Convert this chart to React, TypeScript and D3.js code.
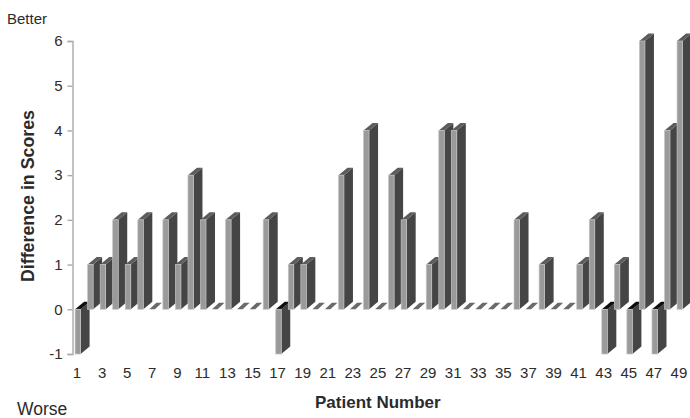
import React, { useEffect, useRef } from "react";
import * as d3 from "d3";

const patients = d3.range(1, 50);
const scores = [
  -1, 1, 1, 2, 1, 2, 0, 2, 1, 3, 2, 0, 2, 0, 0, 2, -1, 1, 1, 0, 0, 3, 0, 4, 0,
  3, 2, 0, 1, 4, 4, 0, 0, 0, 0, 2, 0, 1, 0, 0, 1, 2, -1, 1, -1, 6, -1, 4, 6,
];
const xLabels = patients.filter((p) => p % 2 === 1);
const yTicks = [-1, 0, 1, 2, 3, 4, 5, 6];

const FONT = "'Liberation Sans', Arial, sans-serif";
const TEXT = "#2b2b2b";

function App() {
  const svgRef = useRef<SVGSVGElement | null>(null);

  useEffect(() => {
    const svg = d3.select(svgRef.current);
    svg.selectAll("*").remove();

    const xScale = d3
      .scaleBand<number>()
      .domain(patients)
      .range([70.7, 685.2]);
    const yScale = d3.scaleLinear().domain([-1, 6]).range([354, 41]);

    const frontWidth = 5.5;
    const depthX = 9;
    const depthY = 7.5;
    const left = (p: number) => (xScale(p) as number) + 4.4;

    const defs = svg.append("defs");
    defs
      .append("filter")
      .attr("id", "soft")
      .append("feGaussianBlur")
      .attr("stdDeviation", 0.35);

    const bars = svg.append("g").attr("filter", "url(#soft)");
    const zero = yScale(0);

    patients.forEach((p, i) => {
      const v = scores[i];
      const x0 = left(p);
      const x1 = x0 + frontWidth;
      const y = yScale(v);
      const g = bars.append("g");

      // flat sliver for the patients with no change
      if (v === 0) {
        g.append("polygon")
          .attr(
            "points",
            [
              [x0 - 1, zero],
              [x1 - 1, zero],
              [x1 + depthX - 3, zero - depthY + 1],
              [x0 + depthX - 3, zero - depthY + 1],
            ].join(" ")
          )
          .attr("fill", "#6a6a6a");
        return;
      }

      const top = Math.min(y, zero);
      const bottom = Math.max(y, zero);
      g.append("polygon")
        .attr(
          "points",
          [
            [x1, top],
            [x1 + depthX, top - depthY],
            [x1 + depthX, bottom - depthY],
            [x1, bottom],
          ].join(" ")
        )
        .attr("fill", "#444");
      g.append("polygon")
        .attr(
          "points",
          [
            [x0, top],
            [x0 + depthX, top - depthY],
            [x1 + depthX, top - depthY],
            [x1, top],
          ].join(" ")
        )
        .attr("fill", v < 0 ? "#111" : "#5c5c5c");
      g.append("rect")
        .attr("x", x0)
        .attr("y", top)
        .attr("width", frontWidth)
        .attr("height", bottom - top)
        .attr("fill", "#9a9a9a")
        .attr("stroke", "#c4c4c4")
        .attr("stroke-width", 0.7);
    });

    const yAxis = d3
      .axisLeft(yScale)
      .tickValues(yTicks)
      .tickFormat((d) => String(d))
      .tickSize(5)
      .tickPadding(5);
    const yG = svg.append("g").attr("transform", "translate(72.5,0)").call(yAxis);
    yG.selectAll("path,line").attr("stroke", "#aaa").attr("stroke-width", 1.4);
    yG.selectAll("text")
      .attr("font-family", FONT)
      .attr("font-size", 15)
      .attr("fill", TEXT);

    const xAxis = d3
      .axisBottom(xScale)
      .tickValues(xLabels)
      .tickSize(0)
      .tickPadding(0);
    const xG = svg.append("g").attr("transform", "translate(0,367)").call(xAxis);
    xG.select(".domain").remove();
    xG.selectAll("text")
      .attr("font-family", FONT)
      .attr("font-size", 15)
      .attr("fill", TEXT);

    const label = (s: string, x: number, y: number, size: number, bold = false) =>
      svg
        .append("text")
        .text(s)
        .attr("x", x)
        .attr("y", y)
        .attr("font-family", FONT)
        .attr("font-size", size)
        .attr("font-weight", bold ? "bold" : "normal")
        .attr("fill", TEXT);

    label("Better", 7, 24, 15);
    label("Worse", 17, 415, 17.5);
    label("Patient Number", 315, 408, 17, true);
    label("Difference in Scores", 0, 0, 17.8, true).attr(
      "transform",
      "translate(34,282) rotate(-90)"
    );
  }, []);

  return (
    <svg
      ref={svgRef}
      width={690}
      height={418}
      style={{ position: "absolute", left: 0, top: 0, background: "#fff" }}
    />
  );
}

export default App;
